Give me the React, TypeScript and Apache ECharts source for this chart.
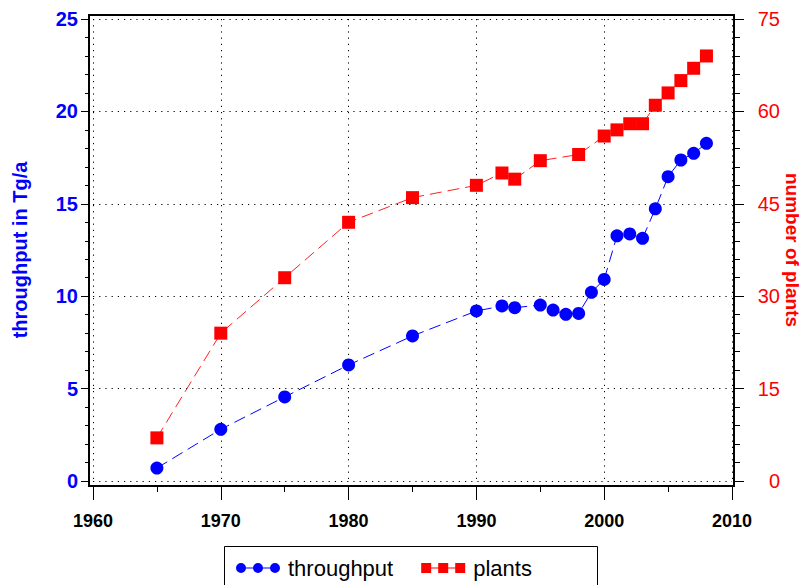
import React, { useEffect, useRef } from "react";
import * as echarts from "echarts";

const throughputYears = [1965, 1970, 1975, 1980, 1985, 1990, 1992, 1993, 1995, 1996, 1997, 1998, 1999, 2000, 2001, 2002, 2003, 2004, 2005, 2006, 2007, 2008];
const throughputValues = [0.7, 2.8, 4.55, 6.28, 7.85, 9.2, 9.47, 9.38, 9.52, 9.25, 9.02, 9.07, 10.21, 10.91, 13.27, 13.37, 13.13, 14.73, 16.47, 17.37, 17.73, 18.27];

const plantYears = [1965, 1970, 1975, 1980, 1985, 1990, 1992, 1993, 1995, 1998, 2000, 2001, 2002, 2003, 2004, 2005, 2006, 2007, 2008];
const plantValues = [7, 24, 33, 42, 46, 48, 50, 49, 52, 53, 56, 57, 58, 58, 61, 63, 65, 67, 69];

const legendNames = ["throughput", "plants"];
const leftAxisTitle = "throughput in Tg/a";
const rightAxisTitle = "number of plants";

const FONT = "'Liberation Sans', Arial, Helvetica, sans-serif";

const circlesIcon =
  "path://M0,5 A5,5 0 1,1 10,5 A5,5 0 1,1 0,5 Z M17,5 A5,5 0 1,1 27,5 A5,5 0 1,1 17,5 Z M34,5 A5,5 0 1,1 44,5 A5,5 0 1,1 34,5 Z M5,4.4 L39,4.4 L39,5.6 L5,5.6 Z";
const squaresIcon =
  "path://M0,0 L10,0 L10,10 L0,10 Z M17,0 L27,0 L27,10 L17,10 Z M34,0 L44,0 L44,10 L34,10 Z M5,4.4 L39,4.4 L39,5.6 L5,5.6 Z";

export default function App() {
  const ref = useRef<HTMLDivElement>(null);
  useEffect(() => {
    if (!ref.current) return;
    const chart = echarts.init(ref.current, null, { renderer: "svg" });
    const dotted = { type: [1.2, 5] as any, color: "#000", width: 1 };
    chart.setOption({
      animation: false,
      backgroundColor: "#fff",
      textStyle: { fontFamily: FONT },
      grid: { left: 93, right: 69, top: 19, bottom: 104, containLabel: false, outerBoundsMode: "none" },
      legend: {
        left: 231,
        top: 552,
        itemWidth: 44,
        itemHeight: 11,
        itemGap: 28,
        textStyle: { fontFamily: FONT, fontSize: 22, color: "#000", padding: [0, 0, 0, 3] },
        data: [
          { name: legendNames[0], icon: circlesIcon },
          { name: legendNames[1], icon: squaresIcon },
        ],
      },
      xAxis: {
        type: "value",
        min: 1960,
        max: 2010,
        interval: 10,
        offset: 5,
        axisLine: { show: true, onZero: false, lineStyle: { color: "#000", width: 2 } },
        axisTick: { show: true, length: 14, lineStyle: { color: "#000", width: 1 } },
        minorTick: { show: true, splitNumber: 2, length: 6, lineStyle: { color: "#000", width: 1 } },
        axisLabel: {
          color: "#000",
          fontSize: 18,
          fontWeight: "bold",
          margin: 26,
          fontFamily: FONT,
          formatter: (v: number) => String(v),
        },
        splitLine: { show: true, lineStyle: dotted },
      },
      yAxis: [
        {
          type: "value",
          position: "left",
          min: 0,
          max: 25,
          interval: 5,
          offset: 4,
          name: leftAxisTitle,
          nameLocation: "middle",
          nameGap: 69,
          nameRotate: 90,
          nameMoveOverlap: false,
          nameTextStyle: {
            color: "#0000ff",
            fontSize: 20,
            fontWeight: "bold",
            fontFamily: FONT,
            align: "center",
            verticalAlign: "middle",
          },
          axisLine: { show: true, lineStyle: { color: "#000", width: 2 } },
          axisTick: { show: true, length: 8, lineStyle: { color: "#000", width: 1 } },
          minorTick: { show: true, splitNumber: 5, length: 4, lineStyle: { color: "#000", width: 1 } },
          axisLabel: { color: "#0000ff", fontSize: 20, fontWeight: "bold", margin: 11, fontFamily: FONT },
          splitLine: { show: true, lineStyle: dotted },
        },
        {
          type: "value",
          position: "right",
          min: 0,
          max: 75,
          interval: 15,
          offset: 2,
          name: rightAxisTitle,
          nameLocation: "middle",
          nameGap: 58,
          nameRotate: -90,
          nameMoveOverlap: false,
          nameTextStyle: {
            color: "#ff0000",
            fontSize: 19,
            fontWeight: "bold",
            fontFamily: FONT,
            align: "center",
            verticalAlign: "middle",
          },
          axisLine: { show: true, lineStyle: { color: "#000", width: 2 } },
          axisTick: { show: true, length: 10, lineStyle: { color: "#000", width: 1 } },
          minorTick: { show: true, splitNumber: 5, length: 6, lineStyle: { color: "#000", width: 1 } },
          axisLabel: { color: "#ff0000", fontSize: 20, margin: 46, align: "right", fontFamily: FONT },
          splitLine: { show: false },
        },
      ],
      graphic: [
        {
          type: "rect",
          z: 100,
          shape: { x: 89, y: 15, width: 645, height: 471 },
          style: { fill: "none", stroke: "#000", lineWidth: 2 },
          silent: true,
        },
        {
          type: "rect",
          shape: { x: 224.5, y: 546.5, width: 373, height: 60 },
          style: { fill: "none", stroke: "#000", lineWidth: 1 },
          silent: true,
        },
      ],
      series: [
        {
          name: legendNames[0],
          type: "line",
          yAxisIndex: 0,
          data: throughputYears.map((y, i) => [y, throughputValues[i]]),
          symbol: "circle",
          symbolSize: 13,
          itemStyle: { color: "#0000ff" },
          lineStyle: { color: "#0000ff", width: 1, type: [12, 6] as any },
          z: 3,
        },
        {
          name: legendNames[1],
          type: "line",
          yAxisIndex: 1,
          data: plantYears.map((y, i) => [y, plantValues[i]]),
          symbol: "rect",
          symbolSize: 13,
          itemStyle: { color: "#ff0000" },
          lineStyle: { color: "#ff2020", width: 1, type: [12, 6] as any },
          z: 3,
        },
      ],
    });
    return () => chart.dispose();
  }, []);
  return (
    <div
      ref={ref}
      style={{ position: "fixed", left: 0, top: 0, width: 801, height: 585, background: "#fff" }}
    />
  );
}
